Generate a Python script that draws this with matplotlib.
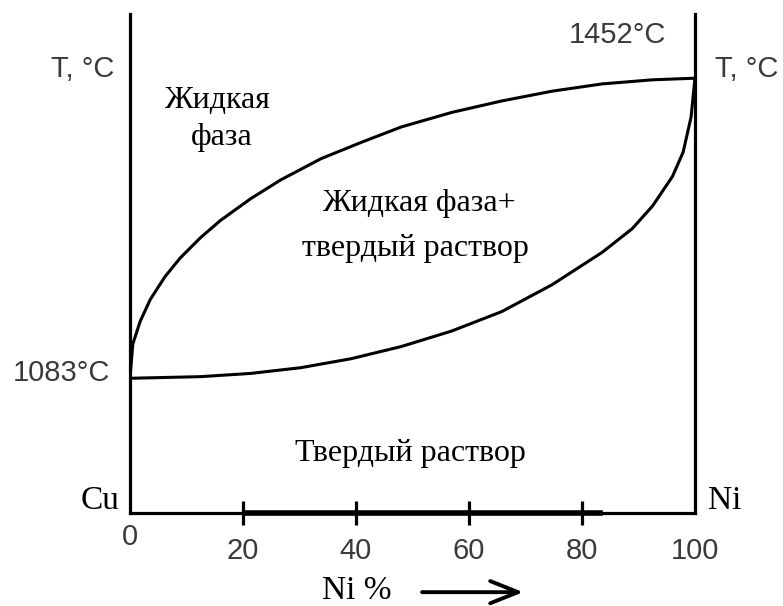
import numpy as np
import matplotlib.pyplot as plt

# liquidus / solidus (Ni %, T in C)
liq_ni = [0, 0.5, 1.8, 3.6, 6.2, 8.9, 12.5, 16, 21.4, 26.7, 33.8, 40.9, 48, 57, 65.8, 74.7, 83.6, 92.5, 100]
liq_t = [1083, 1125, 1153, 1180, 1208, 1231, 1256, 1277, 1304, 1327, 1353, 1373, 1392, 1410, 1424, 1436, 1445, 1450, 1452]
sol_ni = [0, 12.5, 21.4, 30.2, 39.1, 48, 56.9, 65.8, 74.7, 83.6, 88.9, 92.5, 96, 97.9, 99.3, 100]
sol_t = [1083, 1085, 1089, 1096, 1107, 1122, 1141, 1165, 1198, 1238, 1267, 1295, 1331, 1361, 1404, 1452]

ticks = [20, 40, 60, 80]
tick_labels = ['0', '20', '40', '60', '80', '100']
tick_pos = [0, 20, 40, 60, 80, 100]

ymin, ymax = 917, 1531

fig = plt.figure(figsize=(7.83, 6.06), dpi=100)
ax = fig.add_axes([0.166, 0.153, 0.7216, 0.824])
ax.set_xlim(0, 100)
ax.set_ylim(ymin, ymax)
ax.spines['top'].set_visible(False)
for s in ['left', 'right', 'bottom']:
    ax.spines[s].set_linewidth(2.3)
ax.set_xticks(ticks)
ax.tick_params(axis='x', direction='inout', length=17, width=2.3, labelbottom=False)
ax.set_yticks([])

ax.plot(liq_ni, liq_t, color='black', lw=2.2, solid_capstyle='round', solid_joinstyle='round')
ax.plot(sol_ni, sol_t, color='black', lw=2.2, solid_capstyle='round', solid_joinstyle='round')
# heavier piece of the base line
ax.plot([20.4, 83.2], [ymin, ymin], color='black', lw=4.0, clip_on=False)

sans = 'Liberation Sans'
serif = 'Liberation Serif'
gray = '#3a3a3a'

for p, lab in zip(tick_pos, tick_labels):
    y = 888 if p == 0 else 871
    ax.text(p, y, lab, ha='center', va='center', fontsize=21, family=sans, color=gray)

ax.text(-2.7, 1463, 'T, °C', ha='right', va='center', fontsize=21, family=sans, color=gray)
ax.text(103.5, 1463, 'T, °C', ha='left', va='center', fontsize=21, family=sans, color=gray)
ax.text(86.3, 1505, '1452°C', ha='center', va='center', fontsize=21, family=sans, color=gray)
ax.text(-3.5, 1090, '1083°C', ha='right', va='center', fontsize=21, family=sans, color=gray)

ax.text(-1.8, 932, 'Cu', ha='right', va='center', fontsize=24, family=serif)
ax.text(102.3, 932, 'Ni', ha='left', va='center', fontsize=24, family=serif)

ax.text(15.4, 1425, 'Жидкая', ha='center', va='center', fontsize=23, family=serif)
ax.text(16.3, 1379, 'фаза', ha='center', va='center', fontsize=23, family=serif)
ax.text(51.2, 1298, 'Жидкая фаза+', ha='center', va='center', fontsize=23, family=serif)
ax.text(50.5, 1242, 'твердый раствор', ha='center', va='center', fontsize=23, family=serif)
ax.text(49.6, 991, 'Твердый раствор', ha='center', va='center', fontsize=23, family=serif)

ax.text(34, 822, 'Ni %', ha='left', va='center', fontsize=24, family=serif)
ax.annotate('', xy=(69.6, 820), xytext=(51.7, 820),
            arrowprops=dict(arrowstyle='->, head_length=1.0, head_width=0.4', lw=2.8,
                            color='black', mutation_scale=20, shrinkA=0, shrinkB=0),
            annotation_clip=False)

fig.savefig('out.png', dpi=100)
